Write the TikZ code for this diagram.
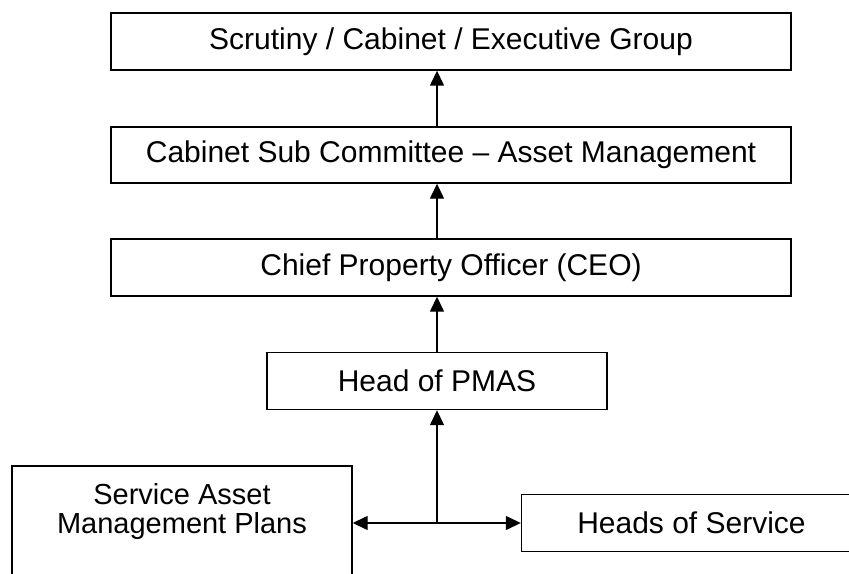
\documentclass[tikz,border=0pt]{standalone}
\usepackage{fontspec}
\setmainfont{Liberation Sans}
\usetikzlibrary{arrows.meta}
\begin{document}
\begin{tikzpicture}[x=1bp,y=-1bp,
  lbl/.style={font=\fontsize{30bp}{29bp}\selectfont},
  box/.style={lbl, draw, line width=1.4bp, rectangle, inner sep=0pt},
  conn/.style={line width=1.4bp, -{Triangle[length=15bp,width=14bp]}},
]
\useasboundingbox (0,0) rectangle (849,574);
\clip (0,0) rectangle (849,574);
\node[box, minimum width=680bp, minimum height=57bp] (b1) at (451,41.5) {Scrutiny / Cabinet / Executive Group};
\node[box, minimum width=680bp, minimum height=56bp] (b2) at (451,155) {Cabinet Sub Committee – Asset Management};
\node[box, minimum width=680bp, minimum height=57bp] (b3) at (451,267.5) {Chief Property Officer (CEO)};
\node[box, minimum width=340bp, minimum height=57bp] (b4) at (437,381) {Head of PMAS};
\node[box, minimum width=340bp, minimum height=57bp] (hos) at (691.5,523) {Heads of Service};
\node[box, minimum width=340bp, minimum height=140bp] (sam) at (182,536) {};
\node[lbl, font=\fontsize{29bp}{29bp}\selectfont, align=center, anchor=base] (samt) at (182,533.5) {Service Asset\\Management Plans};
\coordinate (j) at (b4.south |- hos.west);
\draw[conn] (j) -- (b4.south);
\draw[conn] (b4.north) -- (b3.south -| b4.north);
\draw[conn] (b3.north -| b4.north) -- (b2.south -| b4.north);
\draw[conn] (b2.north -| b4.north) -- (b1.south -| b4.north);
\draw[conn] (j) -- (hos.west);
\draw[conn] (j) -- (sam.east |- j);
\end{tikzpicture}
\end{document}
